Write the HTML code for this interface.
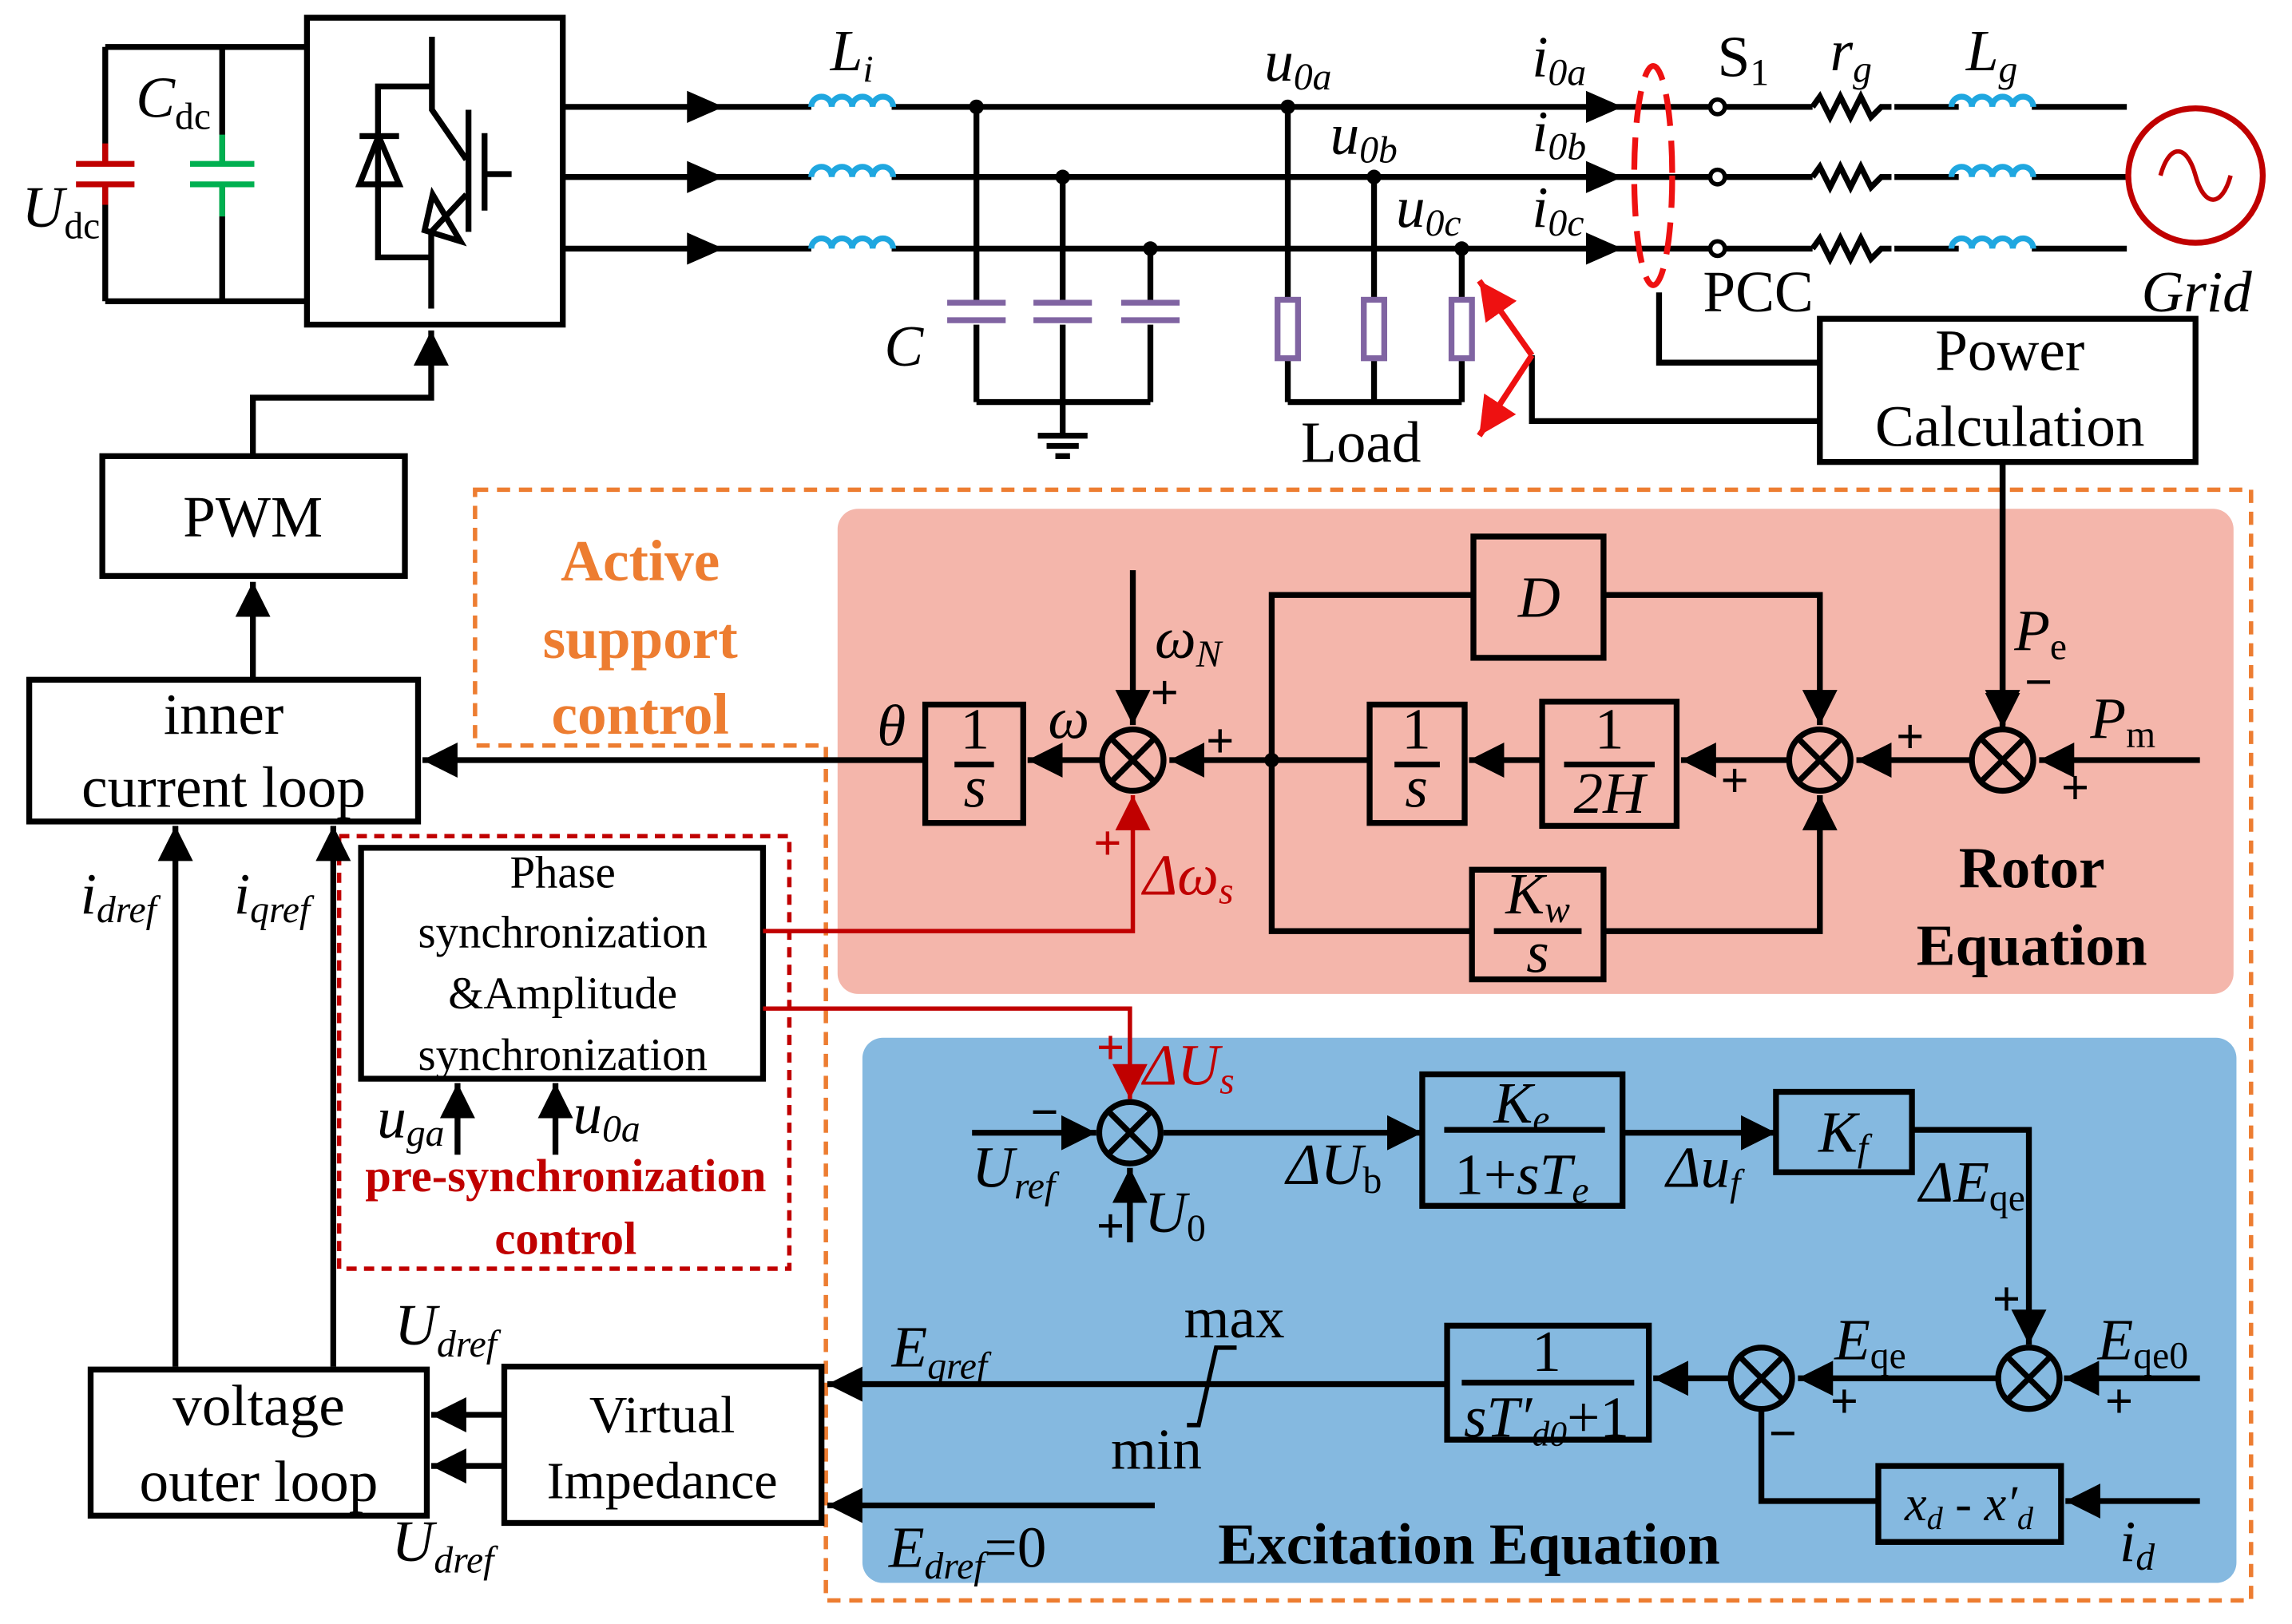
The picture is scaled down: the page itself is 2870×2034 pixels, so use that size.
<!DOCTYPE html>
<html><head><meta charset="utf-8"><style>
html,body{margin:0;padding:0;background:#fff}
svg{display:block}
text{font-family:"Liberation Serif",serif;fill:#000}
.i{font-style:italic}
.b{font-weight:bold}
</style></head><body>
<svg width="2870" height="2034" viewBox="0 0 1568 1111" xmlns="http://www.w3.org/2000/svg">
<defs>
<marker id="ab" viewBox="0 0 10 10" refX="10" refY="5" markerWidth="24" markerHeight="24" orient="auto" markerUnits="userSpaceOnUse"><path d="M0,0 L10,5 L0,10z" fill="#000"/></marker>
<marker id="ar" viewBox="0 0 10 10" refX="10" refY="5" markerWidth="24" markerHeight="24" orient="auto" markerUnits="userSpaceOnUse"><path d="M0,0 L10,5 L0,10z" fill="#c00000"/></marker>
<marker id="arr" viewBox="0 0 10 10" refX="10" refY="5" markerWidth="26" markerHeight="26" orient="auto" markerUnits="userSpaceOnUse"><path d="M0,0 L10,5 L0,10z" fill="#ee1111"/></marker>
</defs>
<!-- regions -->
<path d="M325,335 H1540 V1095 H565 V510 H325 Z" stroke="#ed7d31" stroke-width="3" stroke-dasharray="9,6" fill="none"/>
<rect x="573" y="348" width="955" height="332" rx="14" fill="#f4b6ab"/>
<rect x="590" y="710" width="940" height="373" rx="14" fill="#85b9e0"/>
<rect x="232" y="572" width="308" height="296" stroke="#c00000" stroke-width="3" stroke-dasharray="7,5" fill="none"/>
<g stroke="#000" stroke-width="4" fill="none">
<!-- DC side -->
<path d="M72,32 H210 M72,206 H210 M72,32 V110 M72,127 V206 M152,32 V110 M152,127 V206"/>
<rect x="210" y="12" width="175" height="210"/>
<!-- IGBT -->
<path d="M295.5,25 V75 L319,109 M320.5,75 V158.5 M331.5,91 V144 M331.5,119 H350 M319,133 L295,158.5 V211"/>
<path d="M295.5,59 H258.6 V176 H295.5"/>
<path d="M246,93 H273 M259,93 L246,126 H273 Z"/>
<path d="M296,133 L290.5,157.5 L315,165 Z"/>
<!-- phase lines -->
<path d="M385,73 H555 M610,73 H1240 M1296,73 H1340 M1390,73 H1455"/>
<path d="M385,121 H555 M610,121 H1240 M1296,121 H1340 M1390,121 H1455"/>
<path d="M385,170 H555 M610,170 H1240 M1296,170 H1340 M1390,170 H1455"/>
<path d="M668,73 V205 M727,121 V205 M787,170 V205 M668,222 V275 M727,222 V275 M787,222 V275 M668,275 H787 M727,275 V298 M710,298 H744 M716,305 H738 M722,312 H732"/>
<path d="M881,73 V205 M940,121 V205 M1000,170 V205 M881,245 V275 M940,245 V275 M1000,245 V275 M881,275 H1000"/>
<path d="M1135,200 V248 H1245 M1245,288 H1048 V243"/>
<rect x="1245" y="218" width="257" height="98"/>
<path d="M1370,316 V498" marker-end="url(#ab)"/>
<!-- PWM -->
<rect x="70" y="312" width="207" height="82"/>
<path d="M173,312 V272 H295 V226" marker-end="url(#ab)"/>
<path d="M173,465 V398" marker-end="url(#ab)"/>
<rect x="20" y="465" width="266" height="97"/>
<path d="M120,935 V565" marker-end="url(#ab)"/>
<path d="M228,935 V565" marker-end="url(#ab)"/>
<rect x="62" y="937" width="230" height="100"/>
<rect x="345" y="935" width="217" height="107"/>
<path d="M345,968 H295" marker-end="url(#ab)"/>
<path d="M345,1003 H295" marker-end="url(#ab)"/>
</g>
<g fill="#000">
<path d="M470,62 L495,73 L470,84z M470,110 L495,121 L470,132z M470,159 L495,170 L470,181z"/>
<path d="M1085,62 L1110,73 L1085,84z M1085,110 L1110,121 L1085,132z M1085,159 L1110,170 L1085,181z"/>
<circle cx="668" cy="73" r="5"/><circle cx="727" cy="121" r="5"/><circle cx="787" cy="170" r="5"/>
<circle cx="881" cy="73" r="5"/><circle cx="940" cy="121" r="5"/><circle cx="1000" cy="170" r="5"/>
<circle cx="870" cy="520" r="5"/>
</g>
<g stroke="#000" stroke-width="3" fill="#fff">
<circle cx="1175" cy="73" r="5"/><circle cx="1175" cy="121" r="5"/><circle cx="1175" cy="170" r="5"/>
</g>
<g stroke="#000" stroke-width="4" fill="none">
<path d="M1240,73 l5,-7 l7,14 l7,-14 l7,14 l7,-14 l7,14 l7,-7 h7"/>
<path d="M1240,121 l5,-7 l7,14 l7,-14 l7,14 l7,-14 l7,14 l7,-7 h7"/>
<path d="M1240,170 l5,-7 l7,14 l7,-14 l7,14 l7,-14 l7,14 l7,-7 h7"/>
</g>
<g stroke="#1fa7e0" stroke-width="4" fill="none">
<path d="M555,73 a7,7 0 0 1 14,0 a7,7 0 0 1 14,0 a7,7 0 0 1 14,0 a7,7 0 0 1 14,0"/>
<path d="M555,121 a7,7 0 0 1 14,0 a7,7 0 0 1 14,0 a7,7 0 0 1 14,0 a7,7 0 0 1 14,0"/>
<path d="M555,170 a7,7 0 0 1 14,0 a7,7 0 0 1 14,0 a7,7 0 0 1 14,0 a7,7 0 0 1 14,0"/>
<path d="M1335,73 a7,7 0 0 1 14,0 a7,7 0 0 1 14,0 a7,7 0 0 1 14,0 a7,7 0 0 1 14,0"/>
<path d="M1335,121 a7,7 0 0 1 14,0 a7,7 0 0 1 14,0 a7,7 0 0 1 14,0 a7,7 0 0 1 14,0"/>
<path d="M1335,170 a7,7 0 0 1 14,0 a7,7 0 0 1 14,0 a7,7 0 0 1 14,0 a7,7 0 0 1 14,0"/>
</g>
<path d="M52,112 H92 M52,126 H92 M72,98 V112 M72,126 V140" stroke="#c00000" stroke-width="4"/>
<path d="M130,112 H174 M130,126 H174 M152,92 V112 M152,126 V148" stroke="#00b050" stroke-width="4"/>
<g stroke="#8064a2" stroke-width="4" fill="none">
<path d="M648,207 H688 M648,219 H688 M707,207 H747 M707,219 H747 M767,207 H807 M767,219 H807"/>
<rect x="874" y="205" width="14" height="40"/><rect x="933" y="205" width="14" height="40"/><rect x="993" y="205" width="14" height="40"/>
</g>
<circle cx="1502" cy="120" r="46" stroke="#c00000" stroke-width="4" fill="none"/>
<path d="M1478,120 c6,-22 18,-22 24,0 s18,22 24,0" stroke="#c00000" stroke-width="3" fill="none"/>
<ellipse cx="1131" cy="120" rx="13" ry="75" stroke="#ee1111" stroke-width="4" fill="none" stroke-dasharray="22,10"/>
<path d="M1048,243 L1012,192" stroke="#ee1111" stroke-width="4" marker-end="url(#arr)"/>
<path d="M1048,243 L1012,298" stroke="#ee1111" stroke-width="4" marker-end="url(#arr)"/>
<g stroke="#000" stroke-width="4" fill="none">
<rect x="633" y="482" width="67" height="81"/><rect x="1008" y="367" width="89" height="83"/>
<rect x="937" y="482" width="65" height="81"/><rect x="1055" y="480" width="92" height="85"/>
<rect x="1007" y="595" width="90" height="75"/>
<circle cx="775" cy="520" r="21"/><circle cx="1245" cy="520" r="21"/><circle cx="1370" cy="520" r="21"/>
<path d="M760,505 l30,30 M790,505 l-30,30 M1230,505 l30,30 M1260,505 l-30,30 M1355,505 l30,30 M1385,505 l-30,30"/>
<path d="M1370,316 V496" marker-end="url(#ab)"/>
<path d="M1505,520 H1395" marker-end="url(#ab)"/>
<path d="M1349,520 H1270" marker-end="url(#ab)"/>
<path d="M1224,520 H1150" marker-end="url(#ab)"/>
<path d="M1055,520 H1005" marker-end="url(#ab)"/>
<path d="M937,520 H800" marker-end="url(#ab)"/>
<path d="M754,520 H703" marker-end="url(#ab)"/>
<path d="M633,520 H289" marker-end="url(#ab)"/>
<path d="M775,390 V496" marker-end="url(#ab)"/>
<path d="M870,520 V407 H1008 M1097,407 H1245 V496" marker-end="url(#ab)"/>
<path d="M870,520 V637 H1007 M1097,637 H1245 V544" marker-end="url(#ab)"/>
<path d="M653,523 H680 M954,523 H985 M1070,523 H1132 M1022,637 H1082"/>
<rect x="247" y="580" width="275" height="158"/>
<path d="M313,790 V741" marker-end="url(#ab)"/>
<path d="M380,790 V741" marker-end="url(#ab)"/>
<circle cx="773" cy="775" r="21"/><circle cx="1388" cy="943" r="21"/><circle cx="1205" cy="943" r="21"/>
<path d="M758,760 l30,30 M788,760 l-30,30 M1373,928 l30,30 M1403,928 l-30,30 M1190,928 l30,30 M1220,928 l-30,30"/>
<rect x="973" y="735" width="137" height="90"/><rect x="1215" y="747" width="93" height="55"/>
<rect x="990" y="907" width="138" height="78"/><rect x="1285" y="1003" width="125" height="52"/>
<path d="M665,775 H750" marker-end="url(#ab)"/>
<path d="M773,850 V799" marker-end="url(#ab)"/>
<path d="M796,775 H973" marker-end="url(#ab)"/>
<path d="M1110,775 H1215" marker-end="url(#ab)"/>
<path d="M1308,773 H1388 V920" marker-end="url(#ab)"/>
<path d="M1505,943 H1412" marker-end="url(#ab)"/>
<path d="M1366,943 H1230" marker-end="url(#ab)"/>
<path d="M1183,943 H1131" marker-end="url(#ab)"/>
<path d="M990,947 H566" marker-end="url(#ab)"/>
<path d="M790,1030 H566" marker-end="url(#ab)"/>
<path d="M1205,965 V1027 H1285"/>
<path d="M1505,1027 H1413" marker-end="url(#ab)"/>
<path d="M988,773 H1098 M1000,946 H1118"/>
<path d="M812,975 H820 L832,922 H846" stroke-width="3"/>
</g>
<g stroke="#c00000" stroke-width="3" fill="none">
<path d="M522,637 H775 V544" marker-end="url(#ar)"/>
<path d="M522,690 H773 V752" marker-end="url(#ar)"/>
</g>
<g font-size="40">
<text x="15" y="155" class="i">U<tspan font-size="26" font-style="normal" dy="8">dc</tspan></text>
<text x="93" y="80" class="i">C<tspan font-size="26" font-style="normal" dy="8">dc</tspan></text>
<text x="568" y="48" class="i">L<tspan font-size="26" dy="8">i</tspan></text>
<text x="865" y="55" class="i">u<tspan font-size="26" dy="6">0a</tspan></text>
<text x="910" y="105" class="i">u<tspan font-size="26" dy="6">0b</tspan></text>
<text x="955" y="155" class="i">u<tspan font-size="26" dy="6">0c</tspan></text>
<text x="1048" y="52" class="i">i<tspan font-size="26" dy="6">0a</tspan></text>
<text x="1048" y="103" class="i">i<tspan font-size="26" dy="6">0b</tspan></text>
<text x="1048" y="155" class="i">i<tspan font-size="26" dy="6">0c</tspan></text>
<text x="1175" y="52">S<tspan font-size="26" dy="6">1</tspan></text>
<text x="1252" y="48" class="i">r<tspan font-size="26" dy="8">g</tspan></text>
<text x="1345" y="48" class="i">L<tspan font-size="26" dy="8">g</tspan></text>
<text x="1165" y="213">PCC</text>
<text x="1465" y="213" class="i">Grid</text>
<text x="605" y="250" class="i">C</text>
<text x="890" y="316">Load</text>
<text x="1375" y="253" text-anchor="middle">Power</text>
<text x="1375" y="305" text-anchor="middle">Calculation</text>
<text x="173" y="367" text-anchor="middle">PWM</text>
<text x="153" y="502" text-anchor="middle">inner</text>
<text x="153" y="552" text-anchor="middle">current loop</text>
<text x="177" y="975" text-anchor="middle">voltage</text>
<text x="177" y="1027" text-anchor="middle">outer loop</text>
<text x="453" y="980" text-anchor="middle" font-size="36">Virtual</text>
<text x="453" y="1025" text-anchor="middle" font-size="36">Impedance</text>
<text x="438" y="397" text-anchor="middle" class="b" style="fill:#ed7d31">Active</text>
<text x="438" y="450" text-anchor="middle" class="b" style="fill:#ed7d31">support</text>
<text x="438" y="502" text-anchor="middle" class="b" style="fill:#ed7d31">control</text>
<text x="1390" y="607" text-anchor="middle" class="b">Rotor</text>
<text x="1390" y="660" text-anchor="middle" class="b">Equation</text>
<text x="1005" y="1070" text-anchor="middle" class="b">Excitation Equation</text>
<text x="1053" y="422" text-anchor="middle" class="i">D</text>
<text x="600" y="510" class="i">θ</text>
<text x="717" y="505" class="i">ω</text>
<text x="790" y="450" class="i">ω<tspan font-size="26" dy="6">N</tspan></text>
<text x="1378" y="445" class="i">P<tspan font-size="26" font-style="normal" dy="6">e</tspan></text>
<text x="1430" y="505" class="i">P<tspan font-size="26" font-style="normal" dy="6">m</tspan></text>
<text x="55" y="625" class="i">i<tspan font-size="26" dy="6">dref</tspan></text>
<text x="160" y="625" class="i">i<tspan font-size="26" dy="6">qref</tspan></text>
<text x="270" y="920" class="i">U<tspan font-size="26" dy="8">dref</tspan></text>
<text x="268" y="1068" class="i">U<tspan font-size="26" dy="8">dref</tspan></text>
<text x="665" y="812" class="i">U<tspan font-size="26" dy="8">ref</tspan></text>
<text x="783" y="843" class="i">U<tspan font-size="26" font-style="normal" dy="6">0</tspan></text>
<text x="880" y="810" class="i">ΔU<tspan font-size="26" font-style="normal" dy="6">b</tspan></text>
<text x="1140" y="812" class="i">Δu<tspan font-size="26" dy="6">f</tspan></text>
<text x="1313" y="822" class="i">ΔE<tspan font-size="26" font-style="normal" dy="6">qe</tspan></text>
<text x="1255" y="930" class="i">E<tspan font-size="26" font-style="normal" dy="6">qe</tspan></text>
<text x="1435" y="930" class="i">E<tspan font-size="26" font-style="normal" dy="6">qe0</tspan></text>
<text x="610" y="935" class="i">E<tspan font-size="26" dy="8">qref</tspan></text>
<text x="608" y="1072" class="i">E<tspan font-size="26" dy="8">dref</tspan><tspan dy="-8" font-style="normal">=0</tspan></text>
<text x="1450" y="1068" class="i">i<tspan font-size="26" dy="6">d</tspan></text>
<text x="810" y="915">max</text>
<text x="760" y="1005">min</text>
<text x="667" y="512" text-anchor="middle">1</text><text x="667" y="552" text-anchor="middle" class="i">s</text>
<text x="969" y="512" text-anchor="middle">1</text><text x="969" y="552" text-anchor="middle" class="i">s</text>
<text x="1101" y="512" text-anchor="middle">1</text><text x="1101" y="556" text-anchor="middle" class="i">2H</text>
<text x="1052" y="625" text-anchor="middle" class="i">K<tspan font-size="26" dy="6">w</tspan></text><text x="1052" y="665" text-anchor="middle" class="i">s</text>
<text x="1041" y="768" text-anchor="middle" class="i">K<tspan font-size="26" dy="6">e</tspan></text>
<text x="1041" y="817" text-anchor="middle">1+<tspan class="i">sT</tspan><tspan font-size="26" class="i" dy="6">e</tspan></text>
<text x="1261" y="788" text-anchor="middle" class="i">K<tspan font-size="26" dy="6">f</tspan></text>
<text x="1058" y="938" text-anchor="middle">1</text>
<text x="1058" y="983" text-anchor="middle"><tspan class="i">sT′</tspan><tspan font-size="24" class="i" dy="6">d0</tspan><tspan dy="-6">+1</tspan></text>
<text x="1347" y="1040" text-anchor="middle" font-size="34" class="i">x<tspan font-size="22" dy="6">d</tspan><tspan dy="-6" font-style="normal"> - </tspan>x′<tspan font-size="22" dy="6">d</tspan></text>
<text x="385" y="607" text-anchor="middle" font-size="31">Phase</text>
<text x="385" y="648" text-anchor="middle" font-size="31">synchronization</text>
<text x="385" y="690" text-anchor="middle" font-size="31">&amp;Amplitude</text>
<text x="385" y="732" text-anchor="middle" font-size="31">synchronization</text>
<text x="258" y="778" class="i">u<tspan font-size="26" dy="6">ga</tspan></text>
<text x="392" y="775" class="i">u<tspan font-size="26" dy="6">0a</tspan></text>
<text x="387" y="815" text-anchor="middle" font-size="32" class="b" style="fill:#c00000">pre-synchronization</text>
<text x="387" y="858" text-anchor="middle" font-size="32" class="b" style="fill:#c00000">control</text>
<text x="782" y="612" class="i" style="fill:#c00000">Δω<tspan font-size="26" dy="6">s</tspan></text>
<text x="782" y="742" class="i" style="fill:#c00000">ΔU<tspan font-size="26" dy="6">s</tspan></text>
</g>
<g font-size="34" font-weight="bold">
<text x="787" y="485">+</text><text x="825" y="518">+</text><text x="748" y="588" style="fill:#c00000">+</text>
<text x="1297" y="515">+</text><text x="1177" y="545">+</text><text x="1385" y="478">−</text><text x="1410" y="550">+</text>
<text x="705" y="772">−</text><text x="750" y="728" style="fill:#c00000">+</text><text x="750" y="850">+</text>
<text x="1363" y="900">+</text><text x="1440" y="970">+</text><text x="1252" y="970">+</text><text x="1210" y="992">−</text>
</g>
</svg>
</body></html>
